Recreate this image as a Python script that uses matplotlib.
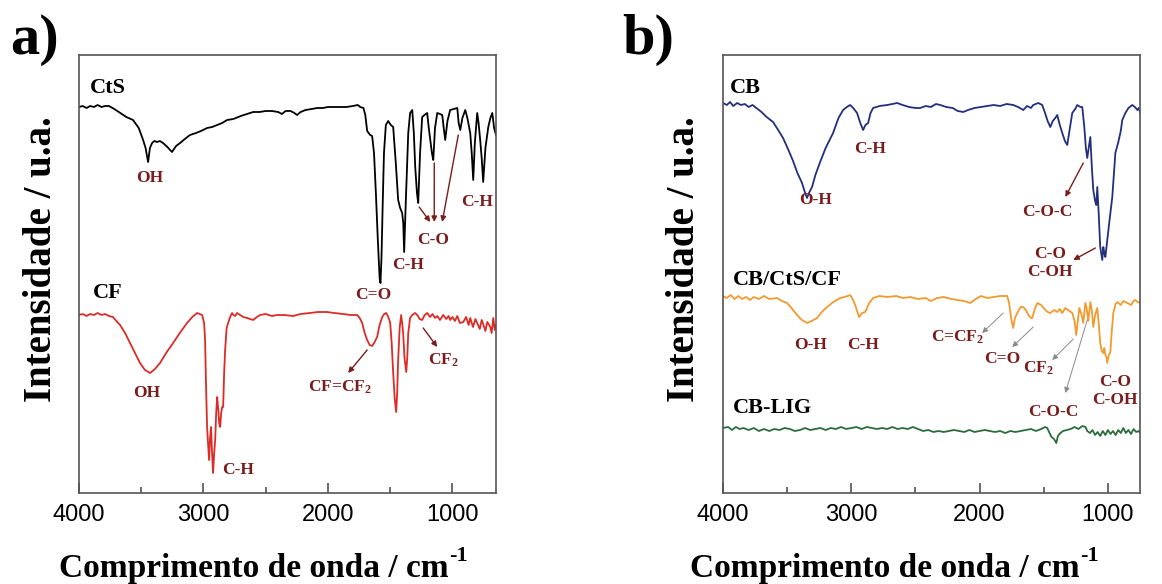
import numpy as np
import matplotlib
matplotlib.use("Agg")
import matplotlib.pyplot as plt
from matplotlib.ticker import MultipleLocator

# FTIR spectra (wavenumber cm-1, stacked intensity a.u.)
cts = [
    (4000, 386), (3970, 387), (3940, 385), (3910, 387), (3880, 386), (3850, 388), (3820, 386),
    (3790, 387), (3760, 387), (3730, 385), (3680, 381), (3620, 376), (3566, 373), (3520, 365),
    (3485, 353), (3465, 345), (3445, 331), (3430, 345), (3413, 350), (3395, 352), (3373, 351),
    (3350, 352), (3325, 350), (3290, 346), (3253, 341), (3220, 347), (3188, 350), (3150, 354),
    (3108, 358), (3060, 360), (3020, 362), (2971, 365), (2930, 366), (2890, 368), (2850, 370),
    (2810, 373), (2760, 374), (2700, 377), (2650, 379), (2601, 381), (2550, 381), (2500, 382),
    (2450, 382), (2400, 381), (2370, 379), (2360, 380), (2340, 382), (2300, 382), (2270, 380),
    (2248, 378), (2220, 381), (2180, 383), (2130, 384), (2087, 385), (2040, 385), (2000, 386),
    (1950, 386), (1900, 386), (1850, 386), (1800, 387), (1760, 388), (1741, 386), (1715, 385),
    (1700, 378), (1685, 362), (1661, 358), (1645, 357), (1630, 340), (1615, 300), (1600, 255),
    (1585, 215), (1578, 210), (1570, 235), (1560, 290), (1550, 340), (1535, 368), (1516, 372),
    (1495, 368), (1476, 366), (1455, 330), (1436, 293), (1420, 285), (1404, 280), (1395, 270),
    (1388, 241), (1375, 290), (1355, 360), (1340, 380), (1323, 383), (1310, 360), (1299, 326),
    (1285, 300), (1275, 290), (1260, 340), (1243, 376), (1225, 378), (1203, 380), (1190, 365),
    (1178, 353), (1165, 340), (1154, 333), (1140, 365), (1122, 380), (1100, 379), (1082, 378),
    (1070, 365), (1058, 353), (1040, 372), (1018, 383), (990, 384), (961, 385), (950, 370),
    (937, 363), (920, 375), (897, 383), (880, 375), (857, 360), (845, 340), (833, 313),
    (820, 350), (801, 380), (790, 370), (777, 353), (765, 335), (753, 311), (735, 345),
    (712, 366), (695, 375), (680, 380), (665, 365), (650, 358),
]

cf = [
    (4000, 178), (3970, 179), (3940, 177), (3910, 179), (3880, 178), (3850, 180), (3820, 178),
    (3790, 179), (3760, 177), (3727, 176), (3700, 172), (3670, 168), (3630, 160), (3590, 150),
    (3550, 140), (3510, 130), (3470, 123), (3429, 120), (3390, 124), (3349, 130), (3300, 140),
    (3244, 150), (3190, 160), (3132, 170), (3090, 176), (3051, 180), (3011, 178), (2995, 170),
    (2987, 153), (2980, 110), (2971, 66), (2963, 50), (2955, 33), (2947, 55), (2939, 66),
    (2931, 40), (2923, 20), (2914, 40), (2906, 53), (2898, 80), (2890, 96), (2882, 85),
    (2874, 70), (2866, 66), (2858, 80), (2850, 86), (2842, 86), (2834, 120), (2826, 143),
    (2814, 165), (2802, 170), (2786, 176), (2770, 180), (2760, 178), (2746, 177), (2730, 180),
    (2706, 178), (2680, 176), (2650, 175), (2625, 174), (2601, 173), (2570, 176), (2545, 178),
    (2500, 179), (2450, 177), (2408, 178), (2350, 178), (2280, 177), (2220, 179), (2143, 180),
    (2080, 181), (2007, 181), (1950, 180), (1878, 179), (1820, 178), (1765, 178), (1745, 175),
    (1725, 170), (1705, 160), (1685, 153), (1665, 148), (1645, 147), (1625, 151), (1605, 156),
    (1585, 168), (1564, 176), (1548, 179), (1532, 180), (1515, 176), (1500, 170), (1488, 150),
    (1476, 120), (1464, 95), (1452, 81), (1444, 100), (1436, 133), (1424, 165), (1412, 178),
    (1404, 170), (1396, 160), (1385, 135), (1371, 121), (1363, 135), (1355, 160), (1340, 175),
    (1323, 178), (1300, 180), (1283, 178), (1263, 174), (1243, 173), (1223, 178), (1203, 180),
    (1180, 176), (1160, 179), (1140, 175), (1122, 177), (1100, 173), (1074, 178), (1050, 174),
    (1030, 177), (1018, 173), (1000, 176), (980, 172), (961, 177), (940, 170), (913, 171),
    (890, 176), (870, 168), (857, 175), (835, 166), (815, 174), (801, 170), (780, 164),
    (765, 173), (753, 169), (735, 162), (720, 171), (696, 166), (685, 160), (672, 175),
    (660, 163), (650, 168),
]

cb = [
    (4000, 390), (3970, 388), (3945, 391), (3920, 387), (3890, 390), (3860, 388), (3830, 389),
    (3800, 386), (3770, 388), (3740, 385), (3700, 381), (3660, 376), (3610, 371), (3570, 363),
    (3532, 355), (3490, 343), (3454, 332), (3420, 320), (3384, 310), (3360, 300), (3345, 295),
    (3330, 300), (3306, 306), (3280, 318), (3243, 331), (3200, 345), (3142, 360), (3100, 375),
    (3064, 383), (3035, 386), (3009, 388), (2985, 385), (2955, 380), (2930, 370), (2908, 363),
    (2890, 368), (2869, 370), (2850, 380), (2830, 385), (2780, 387), (2721, 388), (2680, 389),
    (2643, 390), (2600, 388), (2550, 386), (2500, 385), (2463, 385), (2420, 387), (2380, 386),
    (2340, 389), (2307, 388), (2260, 386), (2210, 385), (2170, 382), (2128, 381), (2090, 383),
    (2040, 385), (1990, 386), (1941, 387), (1890, 388), (1840, 387), (1790, 389), (1738, 388),
    (1700, 386), (1660, 383), (1630, 387), (1600, 385), (1582, 388), (1543, 390), (1512, 388),
    (1490, 380), (1470, 372), (1449, 366), (1430, 372), (1410, 375), (1395, 378), (1375, 368),
    (1356, 360), (1335, 352), (1317, 348), (1300, 362), (1278, 380), (1255, 384), (1239, 388),
    (1215, 386), (1200, 386), (1184, 366), (1172, 345), (1161, 335), (1150, 345), (1137, 356),
    (1125, 325), (1114, 303), (1100, 292), (1090, 288), (1083, 306), (1072, 280), (1060, 246),
    (1044, 233), (1036, 246), (1028, 240), (1020, 236), (1005, 253), (990, 270), (966, 296),
    (942, 340), (919, 351), (900, 362), (888, 373), (864, 380), (840, 385), (810, 388),
    (790, 386), (771, 383), (760, 385), (748, 380),
]

cb_cts_cf = [
    (4000, 197), (3970, 195), (3940, 198), (3910, 194), (3880, 197), (3850, 194), (3820, 196),
    (3790, 193), (3760, 196), (3720, 194), (3680, 197), (3640, 194), (3579, 195), (3540, 192),
    (3501, 190), (3460, 184), (3423, 178), (3385, 173), (3345, 170), (3310, 172), (3267, 175),
    (3230, 181), (3189, 186), (3140, 191), (3087, 195), (3050, 196), (3009, 198), (2990, 194),
    (2970, 188), (2950, 180), (2939, 176), (2915, 180), (2892, 181), (2860, 190), (2830, 195),
    (2780, 197), (2720, 196), (2650, 197), (2596, 195), (2540, 196), (2480, 194), (2420, 195),
    (2380, 192), (2331, 195), (2280, 196), (2220, 194), (2170, 193), (2120, 192), (2073, 190),
    (2030, 194), (1990, 197), (1941, 195), (1890, 196), (1840, 197), (1785, 197), (1770, 190),
    (1755, 175), (1738, 165), (1725, 175), (1699, 182), (1680, 186), (1660, 186), (1640, 183),
    (1620, 178), (1600, 175), (1590, 175), (1570, 184), (1550, 190), (1520, 188), (1488, 183),
    (1470, 181), (1449, 180), (1420, 183), (1395, 181), (1375, 184), (1356, 180), (1332, 185),
    (1300, 182), (1278, 180), (1260, 172), (1247, 158), (1235, 172), (1223, 185), (1205, 178),
    (1192, 170), (1176, 190), (1165, 184), (1153, 172), (1137, 191), (1125, 182), (1114, 166),
    (1100, 178), (1083, 185), (1072, 170), (1060, 150), (1048, 142), (1036, 140), (1028, 145),
    (1020, 138), (1012, 136), (1005, 130), (995, 137), (981, 141), (970, 162), (958, 180),
    (940, 189), (927, 191), (900, 188), (880, 192), (849, 190), (820, 188), (800, 192),
    (786, 193), (770, 191), (748, 190),
]

cb_lig = [
    (4000, 65), (3960, 66), (3930, 63), (3900, 66), (3870, 64), (3840, 65), (3800, 63),
    (3760, 65), (3720, 62), (3680, 64), (3640, 62), (3600, 64), (3560, 63), (3520, 65),
    (3480, 64), (3440, 62), (3400, 63), (3360, 65), (3320, 63), (3280, 64), (3240, 65),
    (3200, 63), (3160, 65), (3120, 64), (3080, 66), (3040, 64), (3000, 65), (2960, 66),
    (2920, 64), (2880, 66), (2840, 65), (2800, 64), (2760, 65), (2720, 64), (2680, 66),
    (2640, 64), (2600, 65), (2560, 64), (2520, 66), (2480, 64), (2440, 62), (2400, 63),
    (2360, 61), (2320, 62), (2280, 61), (2240, 62), (2200, 63), (2160, 62), (2120, 61),
    (2080, 63), (2040, 61), (2000, 62), (1960, 63), (1920, 62), (1880, 61), (1840, 62),
    (1800, 60), (1760, 62), (1720, 61), (1680, 62), (1640, 63), (1600, 64), (1560, 62),
    (1520, 64), (1490, 66), (1473, 65), (1455, 60), (1440, 56), (1420, 54), (1402, 50),
    (1390, 57), (1370, 60), (1350, 62), (1320, 63), (1290, 64), (1260, 66), (1230, 64),
    (1200, 67), (1175, 66), (1161, 62), (1140, 60), (1120, 63), (1100, 58), (1080, 61),
    (1060, 57), (1040, 62), (1020, 58), (1000, 63), (980, 59), (960, 62), (940, 58),
    (920, 63), (900, 60), (880, 65), (860, 60), (840, 63), (820, 59), (800, 64),
    (780, 61), (760, 62), (750, 60),
]

DARK_RED = "#7a1c1c"
SERIF = "Liberation Serif"
W, H = 1162, 584

plt.rcParams["font.family"] = SERIF
plt.rcParams["mathtext.fontset"] = "custom"
plt.rcParams["mathtext.rm"] = "Liberation Serif:bold"
plt.rcParams["mathtext.bf"] = "Liberation Serif:bold"
plt.rcParams["mathtext.it"] = "Liberation Serif:bold"


def setup_axes(ax, xmin):
    ax.set_xlim(4000, xmin)
    ax.set_ylim(0, 438)
    ax.set_yticks([])
    ax.xaxis.set_major_locator(MultipleLocator(1000))
    ax.xaxis.set_minor_locator(MultipleLocator(500))
    ax.tick_params(axis="x", which="major", direction="in", length=7, width=1.1,
                   color="#444444", pad=8, labelsize=17)
    ax.tick_params(axis="x", which="minor", direction="in", length=4, width=1.1,
                   color="#444444")
    for lbl in ax.get_xticklabels():
        lbl.set_fontfamily("Liberation Sans")
    for sp in ax.spines.values():
        sp.set_color("#555555")
        sp.set_linewidth(1.2)


def plot_spec(ax, data, color):
    arr = np.array(data, dtype=float)
    ax.plot(arr[:, 0], arr[:, 1], color=color, lw=1.3)


def label(ax, x, y, s, size=12.5, color=DARK_RED, ha="center"):
    ax.text(x, y, s, color=color, fontsize=size, fontweight="bold",
            ha=ha, va="center", linespacing=1.15)


def arrow(ax, tail, head, color=DARK_RED, lw=1.0):
    ax.annotate("", xy=head, xytext=tail,
                arrowprops=dict(arrowstyle="-|>", color=color, lw=lw,
                                mutation_scale=8, shrinkA=0, shrinkB=0))


fig = plt.figure(figsize=(W / 100, H / 100), dpi=100)
ax1 = fig.add_axes([79 / W, 91 / H, 417 / W, 438 / H])
ax2 = fig.add_axes([723 / W, 91 / H, 417 / W, 438 / H])

# a) CtS and CF
setup_axes(ax1, 650)
plot_spec(ax1, cts, "black")
plot_spec(ax1, cf, "#dd2b27")
label(ax1, 3912, 405, "CtS", size=16, color="black", ha="left")
label(ax1, 3887, 200, "CF", size=16, color="black", ha="left")
label(ax1, 3429, 315, "OH")
label(ax1, 1355, 228, "C-H")
label(ax1, 1637, 198, "C=O")
label(ax1, 1154, 253, "C-O")
label(ax1, 800, 291, "C-H")
arrow(ax1, (1267, 286), (1178, 271))
arrow(ax1, (1146, 330), (1146, 271))
arrow(ax1, (953, 358), (1082, 271))
label(ax1, 3453, 100, "OH")
label(ax1, 2722, 23, "C-H")
label(ax1, 1902, 106, "CF=CF$_2$")
arrow(ax1, (1685, 143), (1838, 120))
label(ax1, 1074, 133, "CF$_2$")
arrow(ax1, (1235, 165), (1122, 146))

# b) CB, CB/CtS/CF and CB-LIG
setup_axes(ax2, 750)
plot_spec(ax2, cb, "#222f7c")
plot_spec(ax2, cb_cts_cf, "#f39a2e")
plot_spec(ax2, cb_lig, "#2c6b3d")
label(ax2, 3945, 405, "CB", size=16, color="black", ha="left")
label(ax2, 3922, 213, "CB/CtS/CF", size=16, color="black", ha="left")
label(ax2, 3922, 85, "CB-LIG", size=16, color="black", ha="left")
label(ax2, 3282, 293, "O-H")
label(ax2, 2853, 344, "C-H")
label(ax2, 1473, 281, "C-O-C")
arrow(ax2, (1192, 330), (1332, 296))
label(ax2, 1449, 230, "C-O\nC-OH")
arrow(ax2, (1098, 245), (1270, 233))
label(ax2, 3321, 148, "O-H")
label(ax2, 2908, 148, "C-H")
label(ax2, 2175, 156, "C=CF$_2$")
arrow(ax2, (1816, 180), (1980, 160), color="#8a8a8a", lw=0.7)
label(ax2, 1824, 134, "C=O")
arrow(ax2, (1582, 166), (1746, 146), color="#8a8a8a", lw=0.7)
label(ax2, 1543, 125, "CF$_2$")
arrow(ax2, (1270, 154), (1434, 133), color="#8a8a8a", lw=0.7)
label(ax2, 1426, 81, "C-O-C")
arrow(ax2, (1161, 173), (1332, 100), color="#8a8a8a", lw=0.7)
label(ax2, 942, 102, "C-O\nC-OH")

# panel letters and axis titles
for xc, letter in [(34, "a)"), (648, "b)")]:
    fig.text(xc / W, 1 - 40 / H, letter, fontsize=42, fontweight="bold",
             ha="center", va="center")
for xc in (42, 684):
    fig.text(xc / W, 1 - 259 / H, "Intensidade / u.a.", fontsize=28,
             fontweight="bold", rotation=90, ha="center", va="center")

# x titles: "cm" with a hyphen-style "-1" superscript
renderer = fig.canvas.get_renderer()
for xc in (263, 894):
    main = fig.text(0, 1 - 577 / H, "Comprimento de onda / cm", fontsize=24,
                    fontweight="bold", ha="left", va="baseline")
    sup = fig.text(0, 1 - 561 / H, "-1", fontsize=16, fontweight="bold",
                   ha="left", va="baseline")
    w_main = main.get_window_extent(renderer).width
    w_sup = sup.get_window_extent(renderer).width
    x0 = xc - (w_main + w_sup) / 2
    main.set_x(x0 / W)
    sup.set_x((x0 + w_main + 1) / W)

fig.savefig("out.png", dpi=100)
